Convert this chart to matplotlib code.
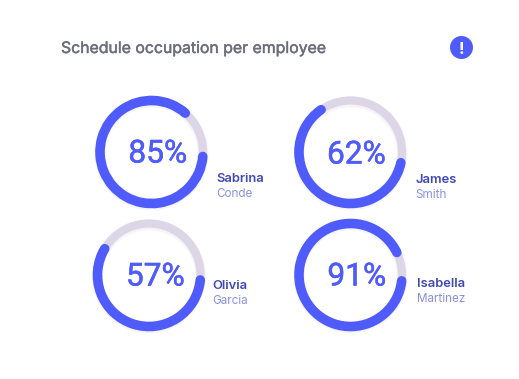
import matplotlib
matplotlib.use('Agg')
import matplotlib.pyplot as plt
import matplotlib.patheffects as pe
from matplotlib.patches import Arc, Circle

W, H = 519, 379

# data
first_names = ['Sabrina', 'James', 'Olivia', 'Isabella']
last_names = ['Conde', 'Smith', 'Garcia', 'Martinez']
percents = [85, 62, 57, 91]

# layout, in pixels of the picture (y from the top)
centers = [(151.5, 152), (350.5, 152), (149, 275), (350.5, 275)]
start_angles = [-5, -12, -5.5, -6.5]
pct_pos = [(157.7, 162.5), (356.3, 163.5), (155.3, 285.5), (356.7, 285.5)]
name_pos = [(216.5, 182), (415.5, 183), (212.2, 289), (417, 287)]

BLUE = '#505bfb'
TRACK = '#dcd6e7'
RADIUS = 51.5
RING_W = 9.6 * 0.72

plt.rcParams['font.family'] = ['Inter', 'DejaVu Sans']

fig = plt.figure(figsize=(W / 100, H / 100), dpi=100, facecolor='white')
ax = fig.add_axes([0, 0, 1, 1])
ax.set_xlim(0, W)
ax.set_ylim(0, H)
ax.axis('off')


def py(y):
    return H - y


def heavier(color, width):
    # Inter comes in one weight here, so thicken it with a thin stroke
    return [pe.withStroke(linewidth=width, foreground=color)]


ax.text(61, py(53), 'Schedule occupation per employee', fontsize=11.4,
        color='#6c6c7e', va='baseline', path_effects=heavier('#6c6c7e', 0.3))

# warning icon
ax.add_patch(Circle((461.5, py(47.5)), 11.5, color=BLUE, lw=0))
ax.text(461.5, py(53.5), '!', fontsize=12, fontweight='bold', color='white',
        ha='center', va='baseline')

for i, pct in enumerate(percents):
    cx, cy = centers[i]
    y = py(cy)
    d = RADIUS * 2

    # soft shadow under the ring
    for lw, a in [(12, 0.012), (10.5, 0.015), (9, 0.02)]:
        ax.add_patch(Arc((cx, y - 1.5), d, d, color='#3a3a70', lw=lw * 0.72,
                         alpha=a))

    ax.add_patch(Arc((cx, y), d, d, color=TRACK, lw=RING_W * 0.85))

    sweep = pct / 100 * 360
    start = start_angles[i]
    ax.add_patch(Arc((cx, y), d, d, theta1=start - sweep, theta2=start,
                     color=BLUE, lw=RING_W, capstyle='round'))

    px, pb = pct_pos[i]
    ax.text(px, py(pb), f'{pct}%', fontsize=22.8, family=['Roboto', 'DejaVu Sans'],
            color=BLUE, ha='center', va='baseline',
            path_effects=heavier(BLUE, 0.4))

    nx, nb = name_pos[i]
    ax.text(nx, py(nb), first_names[i], fontsize=9.3, fontweight='semibold',
            color='#4249b4', va='baseline')
    ax.text(nx, py(nb + 15), last_names[i], fontsize=8.4, color='#8a90e0',
            va='baseline')

fig.savefig('out.png', dpi=100)
